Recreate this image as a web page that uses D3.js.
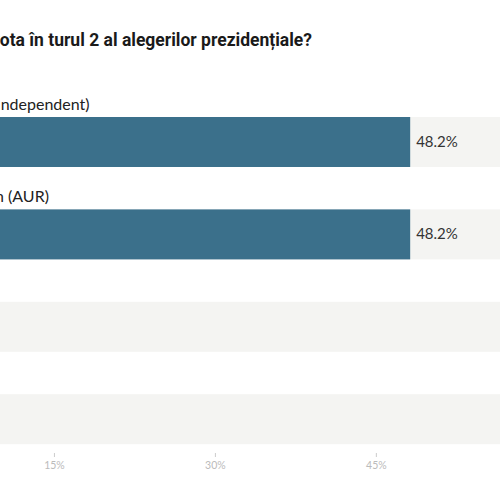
<!DOCTYPE html>
<html lang="ro">
<head>
<meta charset="UTF-8">
<title>Turul 2</title>
<script src="https://cdn.jsdelivr.net/npm/d3@7"></script>
<style>
  html, body { margin: 0; padding: 0; background: #fff; overflow: hidden; }
  svg { display: block; }
</style>
</head>
<body>
<div id="chart"></div>
<script>
// date
var titlu = "Cu cine ați vota în turul 2 al alegerilor prezidențiale?";
var candidati = ["Nicușor Dan (Independent)", "George Simion (AUR)", "Nu știu", "Nu voi vota"];
var procente = [48.2, 48.2, 2.1, 1.5];
var tickuri = [0, 15, 30, 45, 60, 75, 90];

var W = 500, H = 500;

var svg = d3.select("#chart").append("svg")
    .attr("width", W)
    .attr("height", H);

// graficul e decupat in stanga: 0% cade in afara imaginii
var x = d3.scaleLinear().domain([0, 100]).range([-107, 966]);
var y = d3.scaleBand()
    .domain(candidati)
    .range([117, 444.2])
    .paddingInner(0.459)
    .paddingOuter(0)
    .align(0);

svg.append("text")
    .attr("x", 312)
    .attr("y", 46)
    .attr("text-anchor", "end")
    .style("font-family", "Roboto, sans-serif")
    .style("font-weight", "700")
    .style("font-size", "17.5px")
    .style("fill", "#1a1a1a")
    .text(titlu);

var rows = svg.selectAll("g.row")
    .data(candidati)
    .enter().append("g")
    .attr("class", "row");

// fundal gri
rows.append("rect")
    .attr("x", x(0))
    .attr("y", function(d) { return y(d); })
    .attr("width", x(100) - x(0))
    .attr("height", y.bandwidth())
    .style("fill", "#f4f4f2");

rows.append("rect")
    .attr("x", x(0))
    .attr("y", function(d) { return y(d); })
    .attr("width", function(d, i) { return x(procente[i]) - x(0); })
    .attr("height", y.bandwidth())
    .style("fill", "#3b708b");

rows.append("text")
    .attr("x", x(0) + 8)
    .attr("y", function(d) { return y(d) - 7; })
    .style("font-family", "Lato, sans-serif")
    .style("font-size", "16px")
    .style("fill", "#222")
    .text(function(d) { return d; });

rows.append("text")
    .attr("x", function(d, i) { return x(procente[i]) + 6; })
    .attr("y", function(d) { return y(d) + y.bandwidth() / 2 + 5; })
    .style("font-family", "Lato, sans-serif")
    .style("font-size", "15px")
    .style("fill", "#333")
    .text(function(d, i) { return procente[i].toFixed(1) + "%"; });

// axa de jos
var axa = d3.axisBottom(x)
    .tickValues(tickuri)
    .tickSize(4)
    .tickPadding(5)
    .tickFormat(function(d) { return d + "%"; });

var g = svg.append("g")
    .attr("transform", "translate(0,453)")
    .call(axa);
g.select(".domain").remove();
g.selectAll(".tick line").attr("stroke", "#ccc");
g.selectAll(".tick text")
    .style("font-family", "Lato, sans-serif")
    .style("font-size", "10.5px")
    .style("fill", "#bbb");
</script>
</body>
</html>
